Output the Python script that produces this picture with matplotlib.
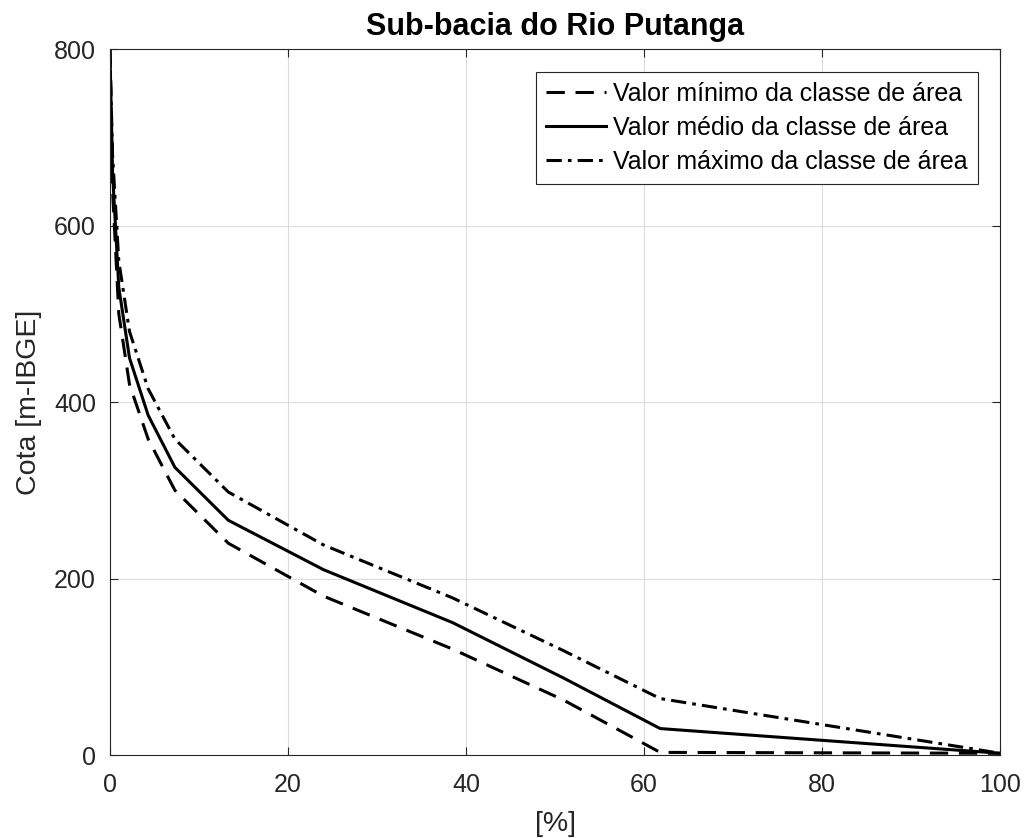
import matplotlib.pyplot as plt

plt.rcParams['font.family'] = ['Liberation Sans', 'DejaVu Sans']

# Percentage of area (x) and elevation values (y)
area_pct = [0, 0.3, 1.0, 2.2, 4.3, 7.3, 13.3, 24.0, 38.5, 51.0, 61.8, 100]
cota_min = [800, 640, 500, 420, 358, 300, 240, 180, 120, 62, 3, 2]
cota_med = [800, 660, 530, 450, 385, 326, 266, 210, 150, 87, 30, 2]
cota_max = [800, 680, 560, 480, 415, 358, 298, 238, 178, 118, 64, 2]

fig = plt.figure(figsize=(10.27, 8.38), dpi=100)
ax = fig.add_axes([0.107, 0.099, 0.867, 0.8425])

ax.plot(area_pct, cota_min, color='black', lw=2.2, linestyle=(0, (6, 3.5)),
        label='Valor mínimo da classe de área')
ax.plot(area_pct, cota_med, color='black', lw=2.2, linestyle='-',
        label='Valor médio da classe de área')
ax.plot(area_pct, cota_max, color='black', lw=2.2, linestyle=(0, (5, 2, 1.2, 2)),
        label='Valor máximo da classe de área')

ax.set_xlim(0, 100)
ax.set_ylim(0, 800)
ax.set_xticks([0, 20, 40, 60, 80, 100])
ax.set_yticks([0, 200, 400, 600, 800])
ax.grid(True, color='#dcdcdc', lw=0.8)
ax.tick_params(direction='in', top=True, right=True, labelsize=18,
               colors='#262626', length=6)
ax.tick_params(axis='x', pad=13)
ax.tick_params(axis='y', pad=10)
for s in ax.spines.values():
    s.set_color('#262626')

ax.set_xlabel('[%]', fontsize=20.5, color='#262626', labelpad=10)
ax.set_ylabel('Cota [m-IBGE]', fontsize=20.5, color='#262626', labelpad=9)
ax.set_title('Sub-bacia do Rio Putanga', fontsize=22, fontweight='bold', pad=10)

leg = ax.legend(loc='upper right', fontsize=18, fancybox=False, framealpha=1,
                edgecolor='#262626', handlelength=2.4, handletextpad=0.3,
                borderaxespad=0.9, borderpad=0.4, labelspacing=0.4)
leg.get_frame().set_linewidth(0.8)

fig.savefig('out.png', dpi=100)
